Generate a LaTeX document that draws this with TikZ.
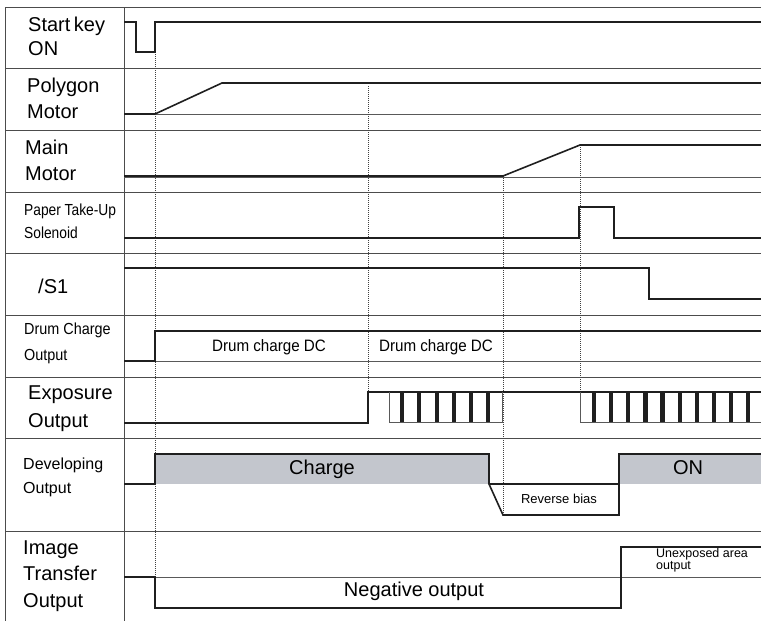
\documentclass[tikz,border=0pt]{standalone}
\usepackage{fontspec}
\setmainfont{Liberation Sans}
\usepackage{graphicx}
\begin{document}
\begin{tikzpicture}[x=1pt,y=-1pt,
  sig/.style={line width=1.6pt,draw=black!88,line join=miter},
  sep/.style={line width=0.9pt,draw=black!70},
  base/.style={line width=0.7pt,draw=black!65},
  dot/.style={line width=0.7pt,draw=black!75,dash pattern=on 1pt off 1pt},
  lbl/.style={anchor=base west,inner sep=0pt,font=\fontsize{20}{24}\selectfont},
  slbl/.style={anchor=base west,inner sep=0pt,font=\fontsize{16}{19}\selectfont},
  txt/.style={anchor=base,inner sep=0pt,font=\fontsize{20}{24}\selectfont},
  mtxt/.style={anchor=base,inner sep=0pt,font=\fontsize{16.5}{19}\selectfont},
  tiny/.style={anchor=base west,inner sep=0pt,font=\fontsize{12.5}{12.5}\selectfont}]
\definecolor{gfill}{RGB}{195,198,205}
\useasboundingbox (0,0) rectangle (761,621);
% frame and separators
\draw[sep] (5,7) -- (761,7);
\draw[sep] (5,7) -- (5,621);
\draw[sep] (124,7) -- (124,621);
\foreach \yy in {68,130,192,253,315,377,438,531} \draw[sep] (5,\yy) -- (761,\yy);
% baselines
\draw[base] (124,114) -- (761,114);
\draw[base] (124,177) -- (761,177);
\draw[base] (124,361) -- (761,361);
\draw[base] (124,577) -- (761,577);
% grey boxes
\fill[gfill] (155,454) rectangle (489,484);
\fill[gfill] (619,454) rectangle (761,484);
% dotted guides
\draw[dot] (155,52) -- (155,577);
\draw[dot] (368,86) -- (368,392);
\draw[dot] (503,176) -- (503,515);
\draw[dot] (580,145) -- (580,392);
% signals
\draw[sig] (124,22) -- (136,22) -- (136,52) -- (155,52) -- (155,22) -- (761,22);
\draw[sig] (124,114) -- (155,114) -- (222,83) -- (761,83);
\draw[sig] (124,176) -- (503,176) -- (580,145) -- (761,145);
\draw[sig] (124,238) -- (579,238) -- (579,207) -- (614,207) -- (614,238) -- (761,238);
\draw[sig] (124,268) -- (649,268) -- (649,299) -- (761,299);
\draw[sig] (124,361) -- (155,361) -- (155,331) -- (761,331);
\draw[sig] (124,423) -- (368,423) -- (368,392) -- (761,392);
% exposure pulses
\draw[base] (389,392) -- (389,422) -- (502,422) -- (502,392);
\foreach \i in {0,...,5} \fill[black!88] ({400+17.25*\i},392) rectangle ++(4.2,30);
\draw[base] (580,392) -- (580,422) -- (761,422);
\foreach \i in {0,...,9} \fill[black!88] ({592+17.1*\i},392) rectangle ++(4.2,30);
% developing
\draw[sig] (124,484) -- (155,484) -- (155,454) -- (489,454) -- (489,484) -- (503,515) -- (619,515) -- (619,454) -- (761,454);
\draw[sig] (489,484) -- (619,484);
% image transfer
\draw[sig] (124,577) -- (155,577) -- (155,608) -- (621,608) -- (621,547) -- (761,547);
% labels
\node[lbl] (l1a) at (28,31) {Start\hspace{-2pt} key};
\node[lbl] (l1b) at (28,55) {ON};
\node[lbl] (l2a) at (27,92) {Polygon};
\node[lbl] (l2b) at (27,118) {Motor};
\node[lbl] (l3a) at (25,154) {Main};
\node[lbl] (l3b) at (25,180) {Motor};
\node[slbl] (l4a) at (24,215) {\scalebox{0.86}[1]{Paper Take-Up}};
\node[slbl] (l4b) at (24,238) {\scalebox{0.86}[1]{Solenoid}};
\node[lbl] (l5) at (38,293) {/S1};
\node[slbl] (l6a) at (24,334) {\scalebox{0.9}[1]{Drum Charge}};
\node[slbl] (l6b) at (24,360) {\scalebox{0.9}[1]{Output}};
\node[lbl] (l7a) at (28,399) {Exposure};
\node[lbl] (l7b) at (28,427) {Output};
\node[slbl] (l8a) at (23,469) {Developing};
\node[slbl] (l8b) at (23,493) {Output};
\node[lbl] (l9a) at (23,554) {Image};
\node[lbl] (l9b) at (23,580) {Transfer};
\node[lbl] (l9c) at (23,607) {Output};
% signal texts
\node[mtxt] (t1) at (269,351) {\scalebox{0.92}[1]{Drum charge DC}};
\node[mtxt] (t2) at (436,351) {\scalebox{0.92}[1]{Drum charge DC}};
\node[txt] (t3) at (322,474) {Charge};
\node[txt] (t4) at (688,474) {ON};
\node[anchor=base,inner sep=0pt,font=\fontsize{13}{13}\selectfont] (t5) at (559,503) {Reverse bias};
\node[txt] (t6) at (414,596) {Negative output};
\node[tiny] (t7) at (656,557) {Unexposed area};
\node[tiny] (t8) at (656,569.5) {output};
\end{tikzpicture}
\end{document}
